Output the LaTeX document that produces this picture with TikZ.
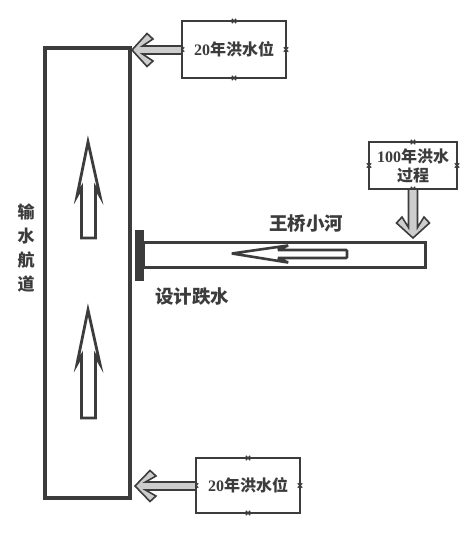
\documentclass[tikz,border=0pt]{standalone}
\usepackage{fontspec}
\setmainfont{Liberation Serif}
\newfontfamily\cjk{Noto Sans CJK SC}
\definecolor{ink}{HTML}{3C3C3C}
\definecolor{arrowgray}{HTML}{CDCDCD}
\newcommand{\grayarrow}[6]{% tip x, tip y, rotate, length, head half, shaft half
  \draw[grayarr, shift={(#1,#2)}, rotate=#3]
    (0,0) -- (15,-#5) -- (21,{-#5+5.5}) -- (10.5,-#6) -- (#4,-#6) -- (#4,#6)
    -- (10.5,#6) -- (21,{#5-5.5}) -- (15,#5) -- cycle;}
\tikzset{
  box/.style={draw=ink, line width=1.8pt, fill=white, inner sep=0pt, outer sep=0pt},
  grayarr/.style={draw=ink, line width=1.6pt, fill=arrowgray, line join=miter},
  hollow/.style={draw=ink, line width=2.8pt, fill=white, line join=miter},
  lbl/.style={font=\cjk\bfseries\fontsize{17}{24}\selectfont, text=ink, inner sep=0pt},
  btxt/.style={font=\bfseries\fontsize{16}{21}\selectfont, text=ink, align=center},
  handle/.style={draw=ink, line width=1.1pt}
}
\begin{document}
\begin{tikzpicture}[x=1pt,y=-1pt]
\useasboundingbox (0,0) rectangle (474,536);
% main channel
\node[box, line width=3.5pt, minimum width=85pt, minimum height=450pt] (ch) at (87.5,273) {};
% river
\node[box, line width=3pt, minimum width=282pt, minimum height=25pt] (rv) at (284,254.5) {};
% drop structure
\node[fill=ink, minimum width=9pt, minimum height=51pt, inner sep=0pt] (dam) at (139.5,255.5) {};
% boxes
\node[box, minimum width=104pt, minimum height=57pt, btxt] (tb) at (234,49.5) {20{\cjk 年洪水位}};
\node[box, minimum width=104pt, minimum height=55pt, btxt] (bb) at (248,485.5) {20{\cjk 年洪水位}};
\node[box, minimum width=88pt, minimum height=47pt, btxt] (rb) at (413,165.5) {100{\cjk 年洪水}\\[-2pt]{\cjk 过程}};
% box handles
\foreach \b in {tb,bb,rb}{
  \foreach \a in {west,east,north,south}{
    \draw[handle] ([xshift=-2.2pt,yshift=-2.2pt]\b.\a) -- ([xshift=2.2pt,yshift=2.2pt]\b.\a)
                  ([xshift=-2.2pt,yshift=2.2pt]\b.\a) -- ([xshift=2.2pt,yshift=-2.2pt]\b.\a);
  }
}
% gray arrows
\grayarrow{132}{50}{0}{50}{16.5}{4}
\grayarrow{135}{486}{0}{61}{15.5}{4}
\grayarrow{413}{238}{90}{49}{16.5}{4.5}
% hollow up arrows
\draw[hollow] (88,142) -- (100,196) -- (95.5,188) -- (95.5,238) -- (81.5,238) -- (81.5,188) -- (77,196) -- cycle;
\draw[hollow] (88,310) -- (100,364) -- (95.5,356) -- (95.5,418) -- (81.5,418) -- (81.5,356) -- (77,364) -- cycle;
% river arrow
\draw[hollow, line width=2.6pt, rounded corners=1pt] (232,253.5) -- (288,245.5) -- (278,250) -- (347,250) -- (347,258) -- (278,258) -- (288,262.5) -- cycle;
% labels
\node[lbl, align=center] (lc) at (26,248) {输\\水\\航\\道};
\node[lbl, font=\cjk\bfseries\fontsize{18.5}{20}\selectfont] (lr) at (306,223) {王桥小河};
\node[lbl, font=\cjk\bfseries\fontsize{18.5}{20}\selectfont] (ld) at (192,297) {设计跌水};
\end{tikzpicture}
\end{document}
